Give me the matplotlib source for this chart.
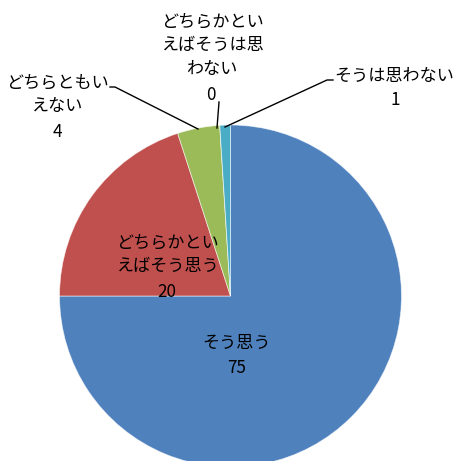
import matplotlib
matplotlib.use("Agg")
import matplotlib.pyplot as plt

plt.rcParams['font.family'] = ['Noto Sans CJK JP', 'DejaVu Sans']

categories = ["そう思う", "どちらかといえばそう思う", "どちらともいえない",
              "どちらかといえばそうは思わない", "そうは思わない"]
values = [75, 20, 4, 0, 1]
colors = ["#4F81BD", "#C0504D", "#9BBB59", "#8064A2", "#4BACC6"]
label_texts = ["そう思う", "どちらかとい\nえばそう思う", "どちらともい\nえない",
               "どちらかとい\nえばそうは思\nわない", "そうは思わない"]

W, H = 453, 461
fig = plt.figure(figsize=(W / 100, H / 100), dpi=100)
ax = fig.add_axes([0, 0, 1, 1])

def Y(y):
    return H - y

cx, cy, r = 230.5, 296, 171
ax.pie(values, colors=colors, startangle=90, counterclock=False,
       center=(cx, Y(cy)), radius=r,
       wedgeprops=dict(edgecolor=(1, 1, 1, 0.6), linewidth=0.6))
ax.set_xlim(0, W)
ax.set_ylim(0, H)
ax.set_aspect('equal')
ax.axis('off')

fs = 12.3
# (name center x, name center y, value x, value y)
pos = [
    (237, 343, 237, 368),
    (167, 254, 167, 292),
    (57, 94, 57, 132),
    (212, 45, 211, 95),
    (394, 76, 395, 100),
]
for (nx, ny, vx, vy), name, v in zip(pos, label_texts, values):
    ax.text(nx, Y(ny), name, ha='center', va='center', fontsize=fs,
            linespacing=1.42, color='black')
    ax.text(vx, Y(vy), str(v), ha='center', va='center', fontsize=fs,
            color='black')

# leader lines
leaders = [
    ([110, 115, 198], [87, 87, 129]),
    ([219, 217], [102, 128]),
    ([333, 327, 225], [80, 80, 127]),
]
for xs, ys in leaders:
    ax.plot(xs, [Y(y) for y in ys], color='black', linewidth=1.0)

fig.savefig("out.png", dpi=100)
